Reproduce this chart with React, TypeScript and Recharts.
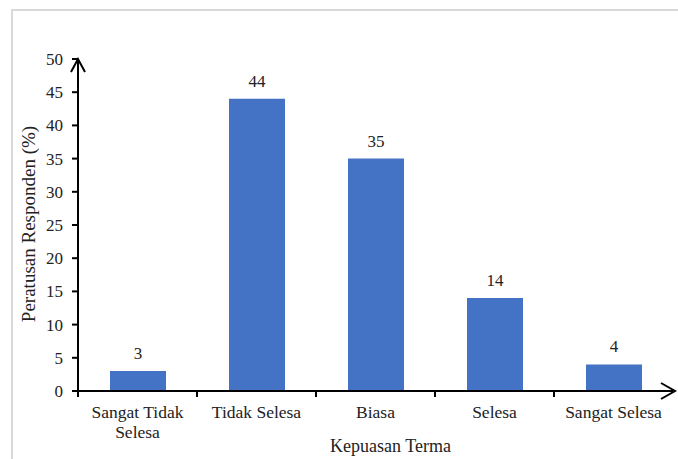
import React from 'react';
import { Bar, BarChart, LabelList, Label, XAxis, YAxis } from 'recharts';

const categories = ['Sangat Tidak Selesa', 'Tidak Selesa', 'Biasa', 'Selesa', 'Sangat Selesa'];
const percentages = [3, 44, 35, 14, 4];
const yTicks = [0, 5, 10, 15, 20, 25, 30, 35, 40, 45, 50];

const data = categories.map((name, i) => ({ name, value: percentages[i] }));

const FONT = 'Liberation Serif, Times New Roman, DejaVu Serif, serif';
const TEXT = '#222';
const BLUE = '#4472C4';
const WIDTH = 678;
const HEIGHT = 459;
const MARGIN = { top: 59, right: 5, bottom: 0, left: 0 };
const Y_AXIS_W = 78;
const STEP = (WIDTH - MARGIN.left - MARGIN.right - Y_AXIS_W) / categories.length;

const textStyle = { fontFamily: FONT, fill: TEXT };

// long category names go onto two lines, split at the last space
function splitLabel(s: string) {
  if (s.length <= 14) return [s];
  const i = s.lastIndexOf(' ');
  return [s.slice(0, i), s.slice(i + 1)];
}

function CategoryTick({ x, y, payload }: any) {
  const lines = splitLabel(String(payload.value));
  const edge = x - STEP / 2;
  return (
    <g>
      <line x1={edge} x2={edge} y1={y} y2={y + 6} stroke="#000" strokeWidth={2} />
      <text x={x} y={y + 27} textAnchor="middle" style={{ ...textStyle, fontSize: 17.5 }}>
        {lines.map((l, i) => (
          <tspan key={i} x={x} dy={i === 0 ? 0 : 20}>
            {l}
          </tspan>
        ))}
      </text>
    </g>
  );
}

function YAxisDecor({ viewBox }: any) {
  if (!viewBox) return null;
  const ax = viewBox.x + viewBox.width;
  const ay = viewBox.y;
  const cy = viewBox.y + viewBox.height / 2 - 1;
  return (
    <g>
      <polyline
        points={`${ax - 7},${ay + 13} ${ax},${ay} ${ax + 7},${ay + 13}`}
        fill="none"
        stroke="#000"
        strokeWidth={2}
      />
      <text
        x={28.5}
        y={cy}
        transform={`rotate(-90 28.5 ${cy})`}
        textAnchor="middle"
        dominantBaseline="central"
        style={{ ...textStyle, fontSize: 19 }}
      >
        Peratusan Responden (%)
      </text>
    </g>
  );
}

function XAxisDecor({ viewBox }: any) {
  if (!viewBox) return null;
  const ax = viewBox.x + viewBox.width + 2;
  const ay = viewBox.y;
  return (
    <g>
      <polyline
        points={`${ax - 14},${ay - 8} ${ax},${ay} ${ax - 14},${ay + 8}`}
        fill="none"
        stroke="#000"
        strokeWidth={2}
      />
      <text
        x={viewBox.x + viewBox.width / 2 + 15}
        y={ay + 61}
        textAnchor="middle"
        style={{ ...textStyle, fontSize: 18 }}
      >
        Kepuasan Terma
      </text>
    </g>
  );
}

export default function App() {
  return (
    <div
      style={{
        position: 'absolute',
        left: 0,
        top: 0,
        width: WIDTH,
        height: HEIGHT,
        overflow: 'hidden',
        background: '#fff',
      }}
    >
      <div
        style={{
          position: 'absolute',
          left: 11,
          top: 9,
          width: 720,
          height: 520,
          border: '2px solid #d9d9d9',
        }}
      />
      <div style={{ position: 'absolute', left: 0, top: 0 }}>
        <BarChart width={WIDTH} height={HEIGHT} data={data} margin={MARGIN}>
          <XAxis
            dataKey="name"
            height={HEIGHT - 391}
            axisLine={{ stroke: '#000', strokeWidth: 2 }}
            tickLine={false}
            tickSize={0}
            tickMargin={0}
            interval={0}
            tick={<CategoryTick />}
          >
            <Label content={<XAxisDecor />} />
          </XAxis>
          <YAxis
            width={Y_AXIS_W}
            domain={[0, 50]}
            ticks={yTicks}
            interval={0}
            axisLine={{ stroke: '#000', strokeWidth: 2 }}
            tickLine={{ stroke: '#000', strokeWidth: 2 }}
            tickSize={6}
            tickMargin={9}
            tick={{ ...textStyle, fontSize: 17 }}
          >
            <Label content={<YAxisDecor />} />
          </YAxis>
          <Bar dataKey="value" fill={BLUE} barSize={56} isAnimationActive={false}>
            <LabelList
              dataKey="value"
              position="top"
              offset={12}
              style={{ ...textStyle, fontSize: 17 }}
            />
          </Bar>
        </BarChart>
      </div>
    </div>
  );
}
